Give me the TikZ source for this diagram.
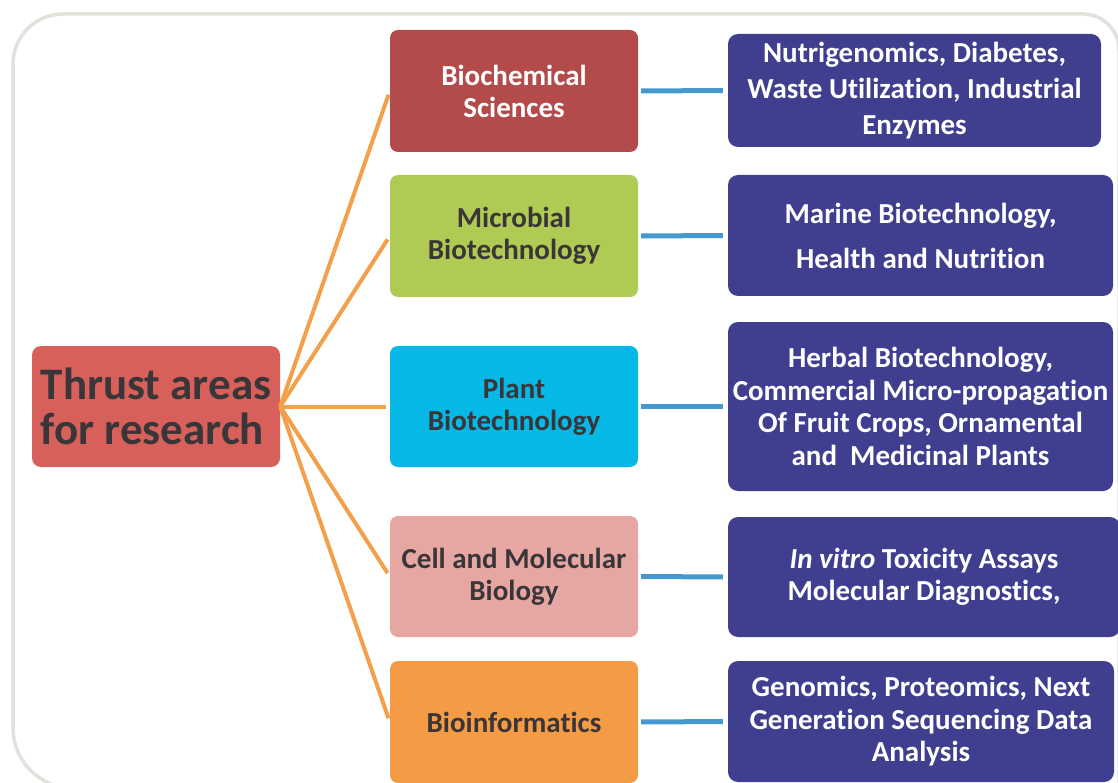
\documentclass[tikz,border=0pt]{standalone}
\usepackage{fontspec}
\setmainfont[Ligatures=NoCommon]{Carlito}
\definecolor{hubred}{HTML}{D8605B}
\definecolor{biored}{HTML}{B34B4B}
\definecolor{micgreen}{HTML}{B0CB53}
\definecolor{plantblue}{HTML}{05B8E6}
\definecolor{cellpink}{HTML}{E6A7A3}
\definecolor{binforange}{HTML}{F39C45}
\definecolor{areablue}{HTML}{403F8F}
\definecolor{spokeorange}{HTML}{F4A04A}
\definecolor{linkblue}{HTML}{4599CF}
\definecolor{darktext}{HTML}{3A3538}
\definecolor{framegray}{HTML}{E4E1DC}
\begin{document}
\begin{tikzpicture}[x=1pt,y=-1pt,
  hub/.style={rectangle, rounded corners=9pt, fill=hubred, text=darktext,
    minimum width=248pt, minimum height=121pt, inner sep=0pt, align=left,
    font=\bfseries\fontsize{45}{45}\selectfont},
  catbox/.style={rectangle, rounded corners=8pt, text=darktext,
    minimum width=248pt, minimum height=122pt, inner sep=0pt, align=center,
    font=\bfseries\fontsize{29}{32}\selectfont},
  areabox/.style={rectangle, rounded corners=10pt, fill=areablue, text=white,
    inner sep=0pt, align=center, font=\bfseries\fontsize{29}{32.5}\selectfont},
  spoke/.style={draw=spokeorange, line width=4pt, shorten >=4pt},
  link/.style={draw=linkblue, line width=5pt, shorten <=3pt, shorten >=5pt},
  framepath/.style={draw=framegray, line width=3.5pt}
]
\useasboundingbox (0,0) rectangle (1118,783);
\clip (0,0) rectangle (1118,783);

% outer frame
\draw[framepath] (1119,800) -- (1119,50) .. controls (1119,30.1) and (1102.9,14) .. (1083,14)
  -- (63,14) .. controls (35.4,14) and (13,36.4) .. (13,64)
  -- (13,728) .. controls (13,761.1) and (39.9,788) .. (73,788) -- (1130,788);

% hub
\node[hub] (hub) at (156,406.5) {Thrust areas\\for research};

% categories
\node[catbox, fill=biored, text=white] (bio) at (514,91) {Biochemical\\Sciences};
\node[catbox, fill=micgreen] (mic) at (514,236) {Microbial\\Biotechnology};
\node[catbox, fill=plantblue, minimum height=121pt] (plant) at (514,406.5) {Plant\\Biotechnology};
\node[catbox, fill=cellpink, minimum height=121pt] (cell) at (514,576.5) {Cell and Molecular\\Biology};
\node[catbox, fill=binforange] (binf) at (514,722) {Bioinformatics};

% areas
\node[areabox, minimum width=373pt, minimum height=113pt,
  font=\bfseries\fontsize{29}{36}\selectfont] (a1) at (914.5,90.5)
  {Nutrigenomics, Diabetes,\\Waste Utilization, Industrial\\Enzymes};
\node[areabox, minimum width=385pt, minimum height=121pt,
  font=\bfseries\fontsize{29}{45}\selectfont] (a2) at (920.5,235.5)
  {Marine Biotechnology,\\Health and Nutrition};
\node[areabox, minimum width=385pt, minimum height=169pt] (a3) at (920.5,406.5)
  {Herbal Biotechnology,\\Commercial Micro-propagation\\Of Fruit Crops, Ornamental\\and\ \ Medicinal Plants};
\node[areabox, minimum width=392pt, minimum height=120pt] (a4) at (924,577)
  {\textit{In vitro} Toxicity Assays\\Molecular Diagnostics,};
\node[areabox, minimum width=386pt, minimum height=121pt] (a5) at (921,721.5)
  {Genomics, Proteomics, Next\\Generation Sequencing Data\\Analysis};

% spokes
\foreach \t in {bio,mic,plant,cell,binf}
  \draw[spoke] (hub.east) -- (\t.west);

% links
\draw[link] (bio.east) -- (a1.west);
\draw[link] (mic.east) -- (a2.west);
\draw[link] (plant.east) -- (a3.west);
\draw[link] (cell.east) -- (a4.west);
\draw[link] (binf.east) -- (a5.west);
\end{tikzpicture}
\end{document}
